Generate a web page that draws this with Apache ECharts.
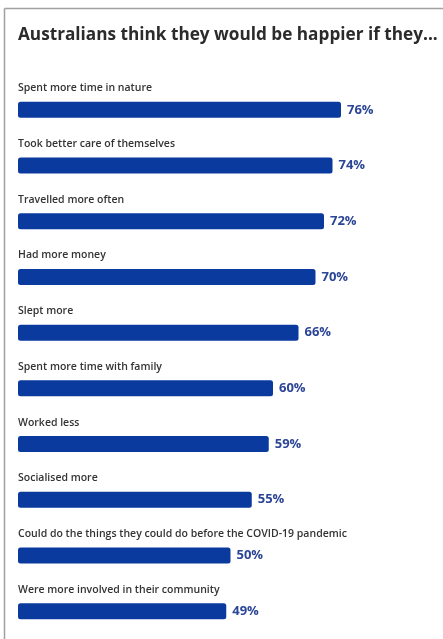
<!DOCTYPE html>
<html><head><meta charset="utf-8">
<script src="https://cdn.jsdelivr.net/npm/echarts@6/dist/echarts.min.js"></script>
<style>html,body{margin:0;padding:0;background:#fff;}#c{width:443px;height:639px;}</style>
</head><body><div id="c"></div>
<script>
const titleText = 'Australians think they would be happier if they...';
const categories = [
  'Spent more time in nature',
  'Took better care of themselves',
  'Travelled more often',
  'Had more money',
  'Slept more',
  'Spent more time with family',
  'Worked less',
  'Socialised more',
  'Could do the things they could do before the COVID-19 pandemic',
  'Were more involved in their community'
];
const values = [76, 74, 72, 70, 66, 60, 59, 55, 50, 49];

const chart = echarts.init(document.getElementById('c'), null, {renderer: 'canvas'});
chart.setOption({
  backgroundColor: '#fff',
  animation: false,
  title: {
    text: titleText, left: 13, top: 22,
    textStyle: {fontFamily: 'Open Sans', fontWeight: 'bold', fontSize: 17.2, color: '#2b2b2b'}
  },
  graphic: [
    {type: 'line', shape: {x1: 4.5, y1: 8.5, x2: 443, y2: 8.5}, style: {stroke: '#a0a0a0', lineWidth: 1.5}},
    {type: 'line', shape: {x1: 4.5, y1: 8.5, x2: 4.5, y2: 639}, style: {stroke: '#a0a0a0', lineWidth: 1.5}}
  ],
  grid: {left: 18, top: 82, width: 428, height: 560, containLabel: false},
  xAxis: {type: 'value', min: 0, max: 100, show: false},
  yAxis: {type: 'category', data: categories, inverse: true, show: false},
  series: [
    {
      type: 'bar', data: values, barWidth: 16, z: 3,
      itemStyle: {color: '#0b3a9e', borderRadius: 2.5},
      label: {show: true, position: 'right', distance: 6, formatter: '{c}%',
        fontFamily: 'Open Sans', fontWeight: 'bold', fontSize: 13, color: '#2b4597'}
    },
    {
      type: 'bar', data: values, barWidth: 16, barGap: '-100%', z: 2,
      itemStyle: {color: 'rgba(0,0,0,0)'}, silent: true,
      label: {show: true, position: [0, -19], formatter: '{b}',
        fontFamily: 'Open Sans', fontSize: 10.5, color: '#333333', fontWeight: 600}
    }
  ]
});
</script></body></html>
